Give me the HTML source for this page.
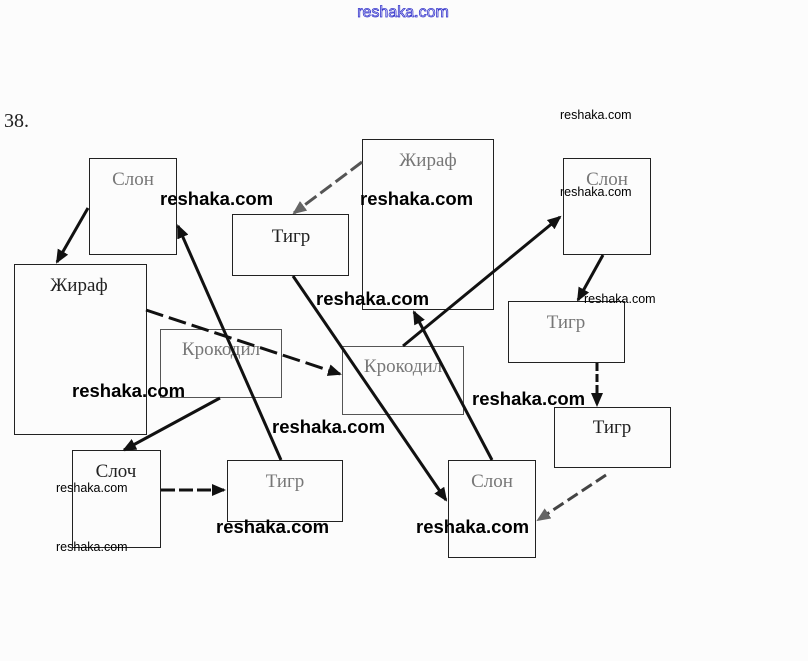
<!DOCTYPE html>
<html><head><meta charset="utf-8"><style>
html,body{margin:0;padding:0;background:#fcfcfc;}
svg{display:block}
.w{font-family:"Liberation Sans",sans-serif;font-weight:bold;font-size:18.5px;fill:#000}
.s{font-family:"Liberation Sans",sans-serif;font-size:12.5px;fill:#000}
.n{font-family:"Liberation Serif",serif;font-size:19px;fill:#222}
.g{fill:#777}
</style></head><body>
<svg width="808" height="661" viewBox="0 0 808 661" xmlns="http://www.w3.org/2000/svg">
<defs>
<marker id="a" markerWidth="14" markerHeight="12" refX="12" refY="6" orient="auto" markerUnits="userSpaceOnUse">
<path d="M0,0 L14,6 L0,12 z" fill="#111"/></marker>
<marker id="b" markerWidth="14" markerHeight="12" refX="12" refY="6" orient="auto" markerUnits="userSpaceOnUse">
<path d="M0,0 L14,6 L0,12 z" fill="#666"/></marker>
</defs>
<text x="403" y="17" text-anchor="middle" font-family="Liberation Sans,sans-serif" font-size="16" fill="none" stroke="#3333cc" stroke-width="0.8">reshaka.com</text>
<text x="4" y="127" font-family="Liberation Serif,serif" font-size="20" fill="#222">38.</text>
<g fill="none" stroke="#222" stroke-width="1">
<rect x="89.5" y="158.5" width="87" height="96"/>
<rect x="14.5" y="264.5" width="132" height="170"/>
<rect x="232.5" y="214.5" width="116" height="61"/>
<rect x="362.5" y="139.5" width="131" height="170"/>
<rect x="563.5" y="158.5" width="87" height="96"/>
<rect x="160.5" y="329.5" width="121" height="68" stroke="#555"/>
<rect x="342.5" y="346.5" width="121" height="68" stroke="#555"/>
<rect x="508.5" y="301.5" width="116" height="61"/>
<rect x="554.5" y="407.5" width="116" height="60"/>
<rect x="72.5" y="450.5" width="88" height="97"/>
<rect x="227.5" y="460.5" width="115" height="61"/>
<rect x="448.5" y="460.5" width="87" height="97"/>
</g>
<text class="n g" x="133" y="185" text-anchor="middle">Слон</text>
<text class="n" x="79" y="291" text-anchor="middle">Жираф</text>
<text class="n" x="291" y="242" text-anchor="middle">Тигр</text>
<text class="n g" x="428" y="166" text-anchor="middle">Жираф</text>
<text class="n g" x="607" y="185" text-anchor="middle">Слон</text>
<text class="n g" x="221" y="355" text-anchor="middle">Крокодил</text>
<text class="n g" x="403" y="372" text-anchor="middle">Крокодил</text>
<text class="n g" x="566" y="328" text-anchor="middle">Тигр</text>
<text class="n" x="612" y="433" text-anchor="middle">Тигр</text>
<text class="n" x="116" y="477" text-anchor="middle">Слоч</text>
<text class="n g" x="285" y="487" text-anchor="middle">Тигр</text>
<text class="n g" x="492" y="487" text-anchor="middle">Слон</text>
<g stroke="#111" stroke-width="3" fill="none">
<line x1="88" y1="208" x2="57" y2="262" marker-end="url(#a)"/>
<line x1="362" y1="162" x2="294" y2="213" stroke="#555" stroke-dasharray="14,5" marker-end="url(#b)"/>
<line x1="146" y1="310" x2="340" y2="374" stroke-dasharray="18,6" marker-end="url(#a)"/>
<line x1="281" y1="460" x2="178" y2="226" marker-end="url(#a)"/>
<line x1="220" y1="398" x2="124" y2="450" marker-end="url(#a)"/>
<line x1="161" y1="490" x2="224" y2="490" stroke-dasharray="14,4" marker-end="url(#a)"/>
<line x1="293" y1="276" x2="446" y2="500" marker-end="url(#a)"/>
<line x1="403" y1="346" x2="560" y2="217" marker-end="url(#a)"/>
<line x1="492" y1="460" x2="414" y2="312" marker-end="url(#a)"/>
<line x1="603" y1="255" x2="578" y2="300" marker-end="url(#a)"/>
<line x1="597" y1="363" x2="597" y2="405" stroke-dasharray="8,3" marker-end="url(#a)"/>
<line x1="606" y1="475" x2="538" y2="520" stroke="#444" stroke-dasharray="12,5" marker-end="url(#b)"/>
</g>
<text class="w" x="160" y="205">reshaka.com</text>
<text class="w" x="360" y="205">reshaka.com</text>
<text class="w" x="316" y="305">reshaka.com</text>
<text class="w" x="72" y="397">reshaka.com</text>
<text class="w" x="472" y="405">reshaka.com</text>
<text class="w" x="272" y="433">reshaka.com</text>
<text class="w" x="216" y="533">reshaka.com</text>
<text class="w" x="416" y="533">reshaka.com</text>
<text class="s" x="560" y="119">reshaka.com</text>
<text class="s" x="560" y="196">reshaka.com</text>
<text class="s" x="584" y="303">reshaka.com</text>
<text class="s" x="56" y="492">reshaka.com</text>
<text class="s" x="56" y="551">reshaka.com</text>
</svg>
</body></html>
